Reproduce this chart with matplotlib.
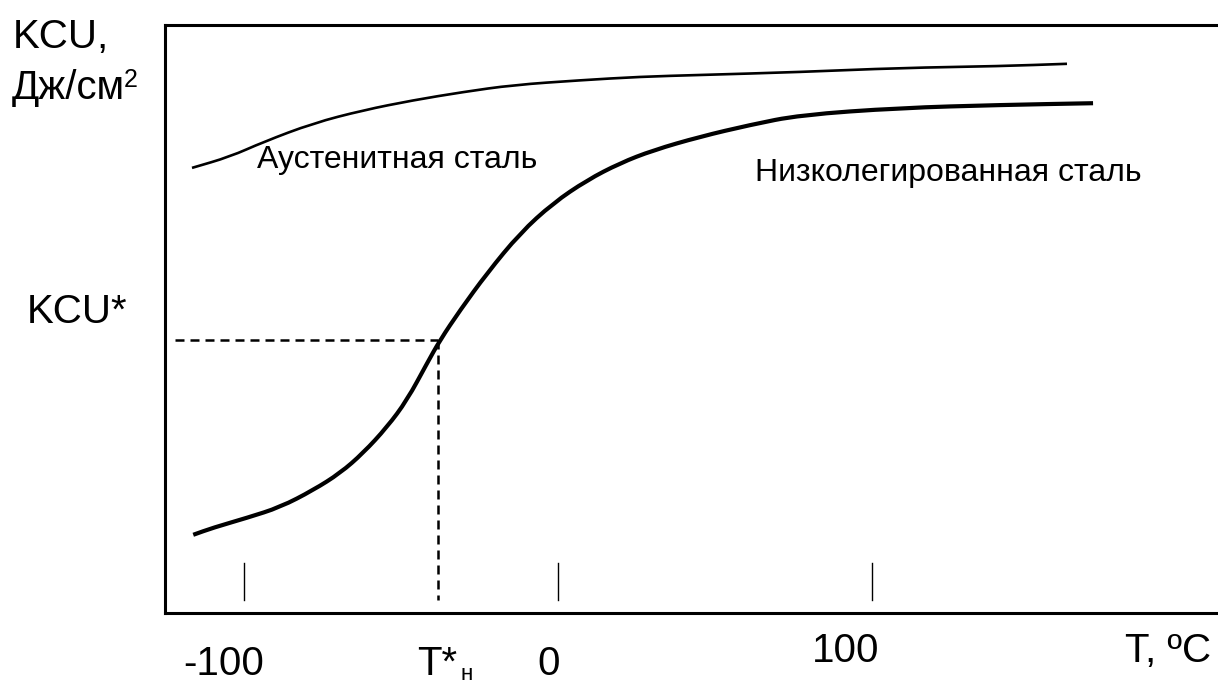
import matplotlib
matplotlib.use("Agg")
import matplotlib.pyplot as plt
from matplotlib.path import Path
from matplotlib.patches import PathPatch

plt.rcParams['font.family'] = ['Liberation Sans', 'DejaVu Sans']

# Temperature (°C) and KCU (arbitrary units, 0..100 = bottom..top of the frame)
low_alloy_T = [-116.2, -109.9, -99.0, -88.5, -78.0, -69.4, -62.1, -54.5, -48.1,
               -41.7, -37.6, -31.2, -22.6, -12.1, -1.6, 9.2, 19.7, 30.3, 45.2,
               61.1, 77.1, 108.9, 140.8, 170.4]
low_alloy_KCU = [13.3, 14.5, 16.2, 18.0, 20.9, 23.8, 27.2, 31.6, 36.2,
                 42.5, 46.4, 51.5, 57.8, 64.6, 69.7, 73.6, 76.5, 78.7, 81.0,
                 83.0, 84.7, 85.9, 86.4, 86.7]

austenitic_T = [-116.6, -104.5, -93.9, -78.0, -62.1, -46.2, -30.3, -14.3, 7.0,
                26.1, 45.2, 77.1, 108.9, 140.8, 162.1]
austenitic_KCU = [75.7, 77.6, 80.1, 83.3, 85.5, 87.2, 88.6, 89.8, 90.6,
                  91.2, 91.5, 92.0, 92.7, 93.0, 93.4]

tick_T = [-100, 0, 100]
T_star = -38.2
KCU_star = 46.4

W, H = 1218, 684
fig = plt.figure(figsize=(W / 100, H / 100), dpi=100)
ax = fig.add_axes([165 / W, 1 - 613 / H, (W - 165) / W, (613 - 25) / H])
ax.set_xlim(-125.2, 210.2)
ax.set_ylim(0, 100)
ax.set_xticks([])
ax.set_yticks([])
ax.spines['right'].set_visible(False)
for s in ['left', 'top', 'bottom']:
    ax.spines[s].set_linewidth(2.2)


def smooth_curve(xs, ys, lw):
    # quadratic Bezier through midpoints, control points at the read points
    pts = list(zip(xs, ys))
    verts = [pts[0]]
    codes = [Path.MOVETO]
    mids = [((pts[i][0] + pts[i + 1][0]) / 2, (pts[i][1] + pts[i + 1][1]) / 2)
            for i in range(len(pts) - 1)]
    verts.append(mids[0]); codes.append(Path.LINETO)
    for i in range(1, len(pts) - 1):
        verts += [pts[i], mids[i]]
        codes += [Path.CURVE3, Path.CURVE3]
    verts.append(pts[-1]); codes.append(Path.LINETO)
    ax.add_patch(PathPatch(Path(verts, codes), facecolor='none',
                           edgecolor='black', lw=lw, capstyle='butt'))


smooth_curve(austenitic_T, austenitic_KCU, 1.9)
smooth_curve(low_alloy_T, low_alloy_KCU, 3.0)

# inner tick segments
for t in tick_T:
    ax.plot([t, t], [2.2, 8.5], color='black', lw=1.0)

# dashed guides
ax.plot([-122.0, T_star], [KCU_star, KCU_star], color='black', lw=1.8,
        dashes=(3.6, 2.4))
ax.plot([T_star, T_star], [KCU_star, 2.2], color='black', lw=1.8,
        dashes=(3.6, 2.4))


def ftext(x, y, s, size, **kw):
    fig.text(x / W, 1 - y / H, s, fontsize=size, ha='left', va='baseline', **kw)


ftext(13, 48, "KCU,", 29)
ftext(12, 99, "Дж/см", 29)
ftext(124, 87, "2", 18)
ftext(27, 323, "KCU*", 29)
ftext(183, 675, "-100", 29)
ftext(417, 675, "T*", 29)
ftext(460, 680, "н", 16)
ftext(537, 675, "0", 29)
ftext(812, 662, "100", 29)
ftext(1125, 662, "T, ºC", 29)

ftext(257, 168, "Аустенитная сталь", 23)
ftext(755, 181, "Низколегированная сталь", 23)

fig.savefig("out.png", dpi=100)
